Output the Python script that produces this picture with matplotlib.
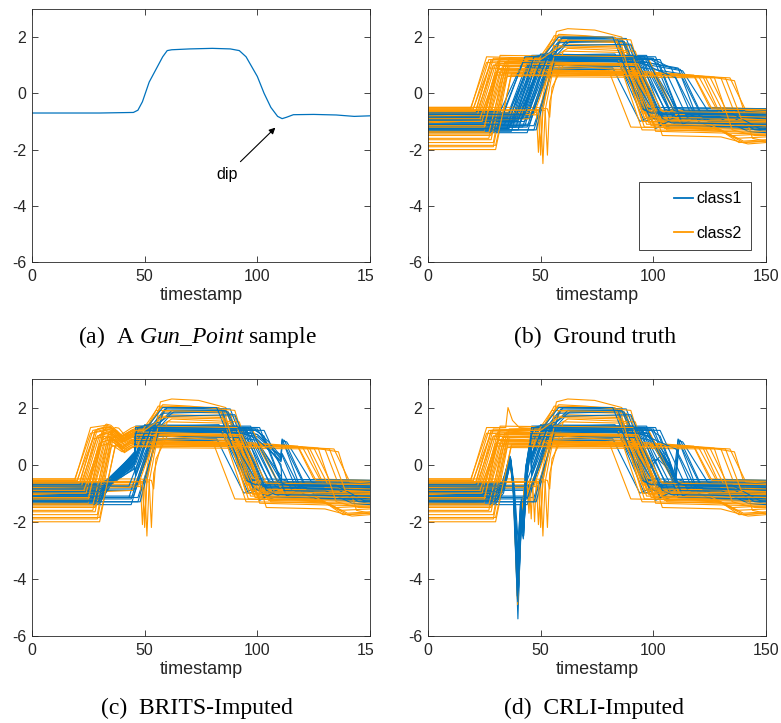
import matplotlib
matplotlib.use('Agg')
import matplotlib.pyplot as plt
from matplotlib.lines import Line2D
from matplotlib.patches import Rectangle
from matplotlib.legend_handler import HandlerLine2D

# ---------------- data ----------------
# (a) one Gun_Point sample, keypoints (timestamp, value)
SAMPLE_T = [0, 30, 45, 47, 49, 52, 55, 58, 60, 62, 70, 80, 88, 92, 95, 100, 103, 106, 109, 111, 113, 116, 125, 135, 143, 150]
SAMPLE_V = [-0.7, -0.7, -0.68, -0.6, -0.3, 0.4, 0.85, 1.3, 1.52, 1.55, 1.58, 1.6, 1.58, 1.52, 1.3, 0.6, 0.0, -0.5, -0.82, -0.9, -0.85, -0.76, -0.75, -0.77, -0.82, -0.8]

# ground truth, class1 (blue) keypoints [timestamp, value]
CLASS1_GT = [
    [[0,-0.75],[33,-0.75],[43,1.25],[85,1.3],[97,-0.7],[101,-0.62],[150,-0.65]],
    [[0,-0.85],[35,-0.85],[45,1.3],[88,1.35],[100,-0.85],[104,-0.75],[150,-0.8]],
    [[0,-0.95],[36,-0.95],[46,1.35],[83,1.4],[96,-1.0],[100,-0.9],[150,-0.95]],
    [[0,-1.05],[38,-1.05],[48,1.2],[90,1.2],[102,-0.8],[106,-0.7],[150,-0.75]],
    [[0,-1.2],[39,-1.2],[49,1.3],[92,1.3],[104,-1.1],[108,-0.95],[150,-1.0]],
    [[0,-1.3],[20,-1.32],[40,-1.3],[50,1.4],[87,1.35],[99,-0.9],[103,-0.8],[150,-0.85]],
    [[0,-0.8],[41,-0.8],[51,1.25],[95,1.25],[107,-0.6],[111,-0.52],[150,-0.55]],
    [[0,-1.0],[43,-1.0],[53,1.3],[94,1.3],[106,-1.2],[110,-1.05],[150,-1.15]],
    [[0,-1.4],[44,-1.4],[54,1.15],[89,1.15],[101,-1.25],[105,-1.1],[150,-1.3]],
    [[0,-0.9],[45,-0.9],[55,1.35],[97,1.35],[109,-0.9],[113,-0.8],[150,-0.85]],
    [[0,-1.15],[47,-1.15],[57,1.25],[100,1.25],[112,-1.0],[116,-0.9],[150,-1.0]],
    [[0,-0.7],[37,-0.7],[47,1.0],[86,1.0],[98,-0.7],[102,-0.6],[150,-0.6]],
    [[0,-1.1],[34,-1.1],[44,0.9],[82,0.9],[94,-1.0],[98,-0.85],[150,-0.9]],
    [[0,-0.95],[38,-0.95],[48,1.25],[53,1.35],[59,1.95],[84,1.95],[98,-0.8],[102,-0.95],[150,-1.0]],
    [[0,-1.2],[42,-1.2],[52,1.3],[56,1.4],[62,1.9],[86,1.9],[100,-0.6],[104,-0.75],[150,-0.8]],
    [[0,-0.85],[46,-0.85],[55,1.5],[60,2.0],[88,1.95],[102,-1.0],[106,-1.15],[150,-1.2]],
    [[0,-1.3],[48,-1.3],[58,1.8],[84,1.85],[97,-0.5],[101,-0.62],[150,-0.65]],
    [[0,-1.05],[41,-1.05],[51,1.3],[85,1.3],[112,0.85],[122,-0.85],[126,-1.0],[150,-1.05]],
    [[0,-0.8],[44,-0.8],[54,1.2],[88,1.15],[113,0.8],[124,-0.6],[128,-0.7],[150,-0.75]],
    [[0,-1.25],[36,-1.25],[46,1.3],[90,1.2],[111,0.9],[120,-1.0],[124,-1.15],[150,-1.25]],
    [[0,-0.95],[40,-0.95],[50,1.0],[92,0.95],[112,0.7],[122,-0.9],[126,-1.05],[150,-1.2]],
    [[0,-1.0],[39,-1.0],[49,1.3],[93,1.25],[105,-0.55],[109,-0.7],[132,-0.7],[145,-1.3],[150,-1.35]],
    [[0,-1.15],[43,-1.15],[53,1.35],[96,1.3],[108,-0.75],[112,-0.9],[130,-0.9],[142,-1.35],[150,-1.4]],
    [[0,-0.75],[46,-0.75],[56,1.2],[98,1.1],[110,-0.5],[114,-0.6],[150,-0.62]],
    [[0,-0.65],[32,-0.65],[42,1.1],[84,1.15],[96,-0.6],[100,-0.5],[150,-0.55]],
    [[0,-1.35],[37,-1.35],[47,1.25],[91,1.3],[103,-1.15],[107,-1.0],[150,-1.1]],
    [[0,-0.9],[42,-0.9],[52,1.4],[57,1.5],[63,1.85],[87,1.85],[101,-0.7],[105,-0.85],[150,-0.9]],
    [[0,-1.1],[45,-1.1],[55,1.3],[99,1.25],[108,0.9],[117,-0.8],[121,-0.95],[150,-1.0]],
    [[0,-0.8],[39,-0.8],[49,0.85],[89,0.85],[101,-0.75],[105,-0.65],[150,-0.7]],
    [[0,-1.25],[35,-1.25],[45,1.2],[95,1.2],[107,-0.95],[111,-0.8],[150,-0.9]],
    [[0,-0.7],[36,-0.7],[46,1.2],[99,1.2],[103,1.0],[111,-0.65],[115,-0.75],[150,-0.72]],
    [[0,-1.0],[41,-1.0],[51,1.35],[101,1.3],[113,-1.1],[117,-0.95],[150,-1.05]],
    [[0,-1.2],[44,-1.2],[54,1.25],[103,1.2],[115,-0.85],[119,-0.75],[150,-0.8]],
    [[0,-0.85],[33,-0.85],[43,1.3],[91,1.35],[103,-0.75],[107,-0.65],[150,-0.7]],
    [[0,-1.3],[47,-1.3],[57,1.35],[61,1.7],[90,1.75],[104,-0.9],[108,-1.05],[150,-1.1]],
    [[0,-0.95],[40,-0.95],[50,1.15],[94,1.1],[110,0.55],[118,-0.7],[122,-0.85],[150,-0.9]],
    [[0,-1.1],[37,-1.1],[47,1.3],[52,1.4],[58,2.0],[82,2.0],[95,-0.55],[99,-0.7],[150,-0.75]],
    [[0,-0.75],[43,-0.75],[53,1.3],[97,1.25],[109,-0.6],[113,-0.7],[135,-0.72],[147,-1.25],[150,-1.3]],
]

# ground truth, class2 (orange) keypoints [timestamp, value]
CLASS2_GT = [
    [[0,-0.55],[19,-0.55],[26,1.3],[48,1.25],[88,1.2],[99,-0.8],[150,-0.85]],
    [[0,-0.7],[21,-0.7],[28,1.15],[50,1.1],[90,1.05],[101,-1.0],[150,-1.1]],
    [[0,-0.9],[22,-0.9],[29,1.0],[92,0.95],[103,-0.9],[150,-0.95]],
    [[0,-1.1],[24,-1.1],[31,0.85],[80,0.85],[90,-1.2],[150,-1.3]],
    [[0,-1.3],[25,-1.3],[32,0.8],[89,0.8],[100,-1.1],[150,-1.2]],
    [[0,-1.6],[27,-1.6],[34,1.1],[94,1.0],[105,-1.25],[130,-1.3],[140,-1.7],[150,-1.65]],
    [[0,-1.9],[29,-1.9],[36,0.95],[87,0.9],[98,-1.0],[125,-1.05],[138,-1.75],[150,-1.7]],
    [[0,-2.0],[30,-2.0],[37,0.7],[95,0.65],[106,-1.3],[150,-1.4]],
    [[0,-0.6],[20,-0.6],[27,1.2],[50,1.2],[57,2.0],[85,1.95],[96,-0.9],[150,-1.0]],
    [[0,-0.8],[23,-0.8],[30,1.05],[52,1.1],[59,1.85],[88,1.8],[99,-1.15],[150,-1.2]],
    [[0,-1.2],[26,-1.2],[33,0.95],[49,1.0],[56,2.05],[83,2.0],[95,-0.7],[150,-0.75]],
    [[0,-1.45],[28,-1.45],[35,1.15],[53,1.2],[60,1.75],[90,1.7],[101,-1.35],[150,-1.45]],
    [[0,-0.6],[45,-0.6],[48,-0.55],[49,-2.1],[50,-0.5],[57,2.2],[62,2.3],[74,2.25],[86,2.0],[97,-0.9],[150,-0.95]],
    [[0,-0.75],[46,-0.7],[50,-0.65],[51,-2.5],[52,-0.6],[58,1.9],[87,1.85],[98,-1.05],[150,-1.1]],
    [[0,-0.65],[47,-0.62],[52,-0.6],[53,-2.2],[54,-0.3],[60,1.5],[89,1.45],[100,-0.85],[150,-0.9]],
    [[0,-0.85],[44,-0.8],[49,-0.75],[50,-2.2],[51,-0.55],[56,1.7],[85,1.65],[96,-1.2],[150,-1.25]],
    [[0,-0.5],[48,-0.5],[53,-0.55],[54,-0.85],[55,0.2],[60,1.0],[90,0.95],[101,-0.6],[150,-0.62]],
    [[0,-0.6],[22,-0.6],[29,1.0],[60,0.9],[100,0.7],[120,0.62],[128,-0.55],[150,-0.6]],
    [[0,-0.95],[24,-0.95],[31,0.85],[70,0.75],[110,0.65],[125,0.6],[133,-0.7],[150,-0.72]],
    [[0,-1.25],[26,-1.25],[33,0.7],[80,0.7],[115,0.62],[130,0.55],[138,-1.1],[150,-1.2]],
    [[0,-1.5],[28,-1.5],[35,0.6],[128,0.55],[136,0.45],[144,-1.6],[150,-1.7]],
    [[0,-0.7],[46,-0.68],[54,0.8],[95,0.7],[118,0.62],[125,-0.5],[150,-0.55]],
    [[0,-1.05],[45,-0.9],[53,0.75],[100,0.65],[122,0.6],[130,-0.8],[150,-0.85]],
    [[0,-0.55],[20,-0.55],[27,0.9],[110,0.65],[134,0.55],[141,-0.6],[150,-0.65]],
    [[0,-1.75],[29,-1.75],[36,1.25],[56,1.3],[62,1.6],[92,1.5],[104,-1.5],[130,-1.55],[142,-1.8],[150,-1.75]],
    [[0,-1.35],[25,-1.35],[32,1.35],[84,1.3],[95,-1.3],[150,-1.35]],
    [[0,-0.6],[50,-0.58],[57,1.3],[98,1.2],[110,-0.75],[150,-0.8]],
    [[0,-1.0],[23,-1.0],[30,0.75],[100,0.7],[112,-1.05],[125,-1.1],[137,-1.6],[150,-1.55]],
    [[0,-0.65],[21,-0.65],[28,1.2],[51,1.25],[58,2.1],[70,2.05],[90,1.9],[101,-0.95],[150,-1.0]],
    [[0,-1.15],[25,-1.15],[32,1.05],[86,1.0],[97,-0.85],[150,-0.9]],
    [[0,-0.8],[47,-0.75],[55,1.05],[92,1.0],[104,-1.15],[125,-1.2],[135,-1.5],[150,-1.45]],
    [[0,-1.65],[28,-1.65],[35,0.9],[105,0.7],[123,0.6],[131,-0.65],[150,-0.7]],
    [[0,-0.5],[19,-0.5],[26,1.1],[60,1.0],[100,0.75],[118,0.65],[126,-0.55],[150,-0.58]],
    [[0,-0.75],[22,-0.75],[29,1.25],[49,1.2],[55,1.9],[84,1.85],[95,-1.0],[150,-1.05]],
    [[0,-1.4],[27,-1.4],[34,0.8],[90,0.75],[101,-1.2],[128,-1.25],[140,-1.75],[150,-1.7]],
    [[0,-1.0],[24,-1.0],[31,1.15],[93,1.05],[104,-0.65],[150,-0.7]],
    [[0,-0.6],[46,-0.6],[49,-0.6],[50,-1.9],[51,-0.58],[56,1.35],[91,1.3],[102,-0.95],[150,-1.0]],
    [[0,-1.85],[30,-1.85],[37,0.65],[110,0.62],[127,0.58],[135,-1.3],[145,-1.5],[150,-1.5]],
    [[0,-0.9],[23,-0.9],[30,0.65],[115,0.62],[132,0.55],[139,-0.9],[150,-0.95]],
    [[0,-1.2],[25,-1.2],[32,1.2],[50,1.2],[58,1.65],[86,1.6],[97,-1.1],[150,-1.15]],
]

# (c) BRITS-imputed segments: {curve number: [segment keypoints, ...]}
BRITS_CLASS1 = {
    1: [[[30,-0.75],[33.5,-0.62],[45.5,0.45],[46,1.25]]],
    2: [[[30,-0.85],[33.5,-0.6],[45.5,0.35],[46,1.3]]],
    3: [[[30,-0.95],[34,-0.6],[45.5,0.3],[46,1.35]]],
    4: [[[30,-1.05],[34.5,-0.62],[45.5,0.2],[46,0.75]]],
    5: [[[30,-1.2],[35,-0.65],[45.5,0.1],[46,0.55]]],
    6: [[[30,-1.3],[35,-0.7],[45.5,0.0],[46,0.32]]],
    7: [[[30,-0.8],[35.5,-0.6],[45.5,0.15],[46,0.22]]],
    8: [[[30,-1.0],[36,-0.65],[45.5,-0.1],[46,-0.31]]],
    10: [[[100,0.79],[106,0.1],[110.5,-0.4],[111,-0.85]]],
    11: [[[100,1.25],[105,0.6],[110.5,0.0],[111,-0.81]]],
    12: [[[30,-0.7],[33,-0.6],[45.5,0.4],[46,0.83]]],
    13: [[[30,-1.1],[33.5,-0.65],[45.5,0.25],[46,0.9]]],
    14: [[[30,-0.95],[34,-0.6],[45.5,0.3],[46,0.81]]],
    15: [[[30,-1.2],[35,-0.65],[45.5,-0.05],[46,-0.2]]],
    18: [[[30,-1.05],[34.5,-0.6],[45.5,0.05],[46,0.13]], [[100,1.05],[106,0.6],[110.5,0.25],[111,0.87]]],
    19: [[[30,-0.8],[36,-0.6],[45.5,-0.15],[46,-0.4]], [[100,0.98],[107,0.5],[110.5,0.35],[111,0.83]]],
    20: [[[30,-1.25],[34,-0.7],[45.5,0.35],[46,1.3]], [[100,1.06],[105,0.7],[110.5,0.2],[111,0.9]]],
    21: [[[30,-0.95],[35,-0.62],[45.5,0.1],[46,0.22]], [[100,0.85],[106,0.45],[110.5,0.15],[111,0.71]]],
    22: [[[30,-1.0],[34,-0.6],[45.5,0.2],[46,0.61]]],
    25: [[[30,-0.65],[33,-0.55],[45.5,0.4],[46,1.1]]],
    26: [[[30,-1.35],[35,-0.7],[45.5,0.25],[46,0.99]]],
    27: [[[30,-0.9],[35.5,-0.62],[45.5,0.0],[46,0.02]]],
    28: [[[99,1.25],[105,0.8],[110.5,0.3],[111,0.33]]],
    29: [[[30,-0.8],[34,-0.6],[45.5,0.15],[46,0.36]]],
    30: [[[30,-1.25],[33.5,-0.65],[45.5,0.3],[46,1.2]]],
    31: [[[30,-0.7],[33,-0.6],[45.5,0.35],[46,1.2]]],
    32: [[[30,-1.0],[35,-0.65],[45.5,0.05],[46,0.18]]],
    34: [[[30,-0.85],[33,-0.72],[45.5,0.4],[46,1.3]]],
    36: [[[30,-0.95],[35,-0.62],[45.5,0.1],[46,0.31]], [[100,0.89],[106,0.45],[110.5,0.1],[111,0.39]]],
    37: [[[30,-1.1],[34,-0.68],[45.5,0.3],[46,1.06]]],
}
BRITS_CLASS2 = {
    1: [[[33,1.38],[35,1.33],[39.5,1.0],[44,1.2],[46,1.27]], [[99,-0.8],[100.5,-1.1],[101.5,-0.82]]],
    2: [[[33,1.25],[35,1.2],[39.5,0.9],[44,1.08],[46,1.12]]],
    3: [[[33,1.1],[35,1.05],[39.5,0.78],[44,0.98],[46,1.0]]],
    4: [[[33,0.95],[35,0.95],[40,0.65],[44,0.85],[46,0.85]]],
    5: [[[33,0.85],[35.5,0.9],[40,0.6],[44,0.8],[46,0.8]]],
    6: [[[35,1.15],[37,1.2],[40.5,0.9],[44,1.05],[46,1.08]]],
    7: [[[37,1.0],[38,1.02],[41,0.8],[44.5,0.95],[46,0.93]]],
    8: [[[38,0.72],[41,0.55],[44.5,0.7],[46,0.7]]],
    9: [[[33,1.3],[35,1.28],[39.5,0.95],[44,1.15],[46,1.2]], [[99,-0.9],[100.5,-1.12],[101.5,-0.9]]],
    10: [[[33,1.15],[35,1.12],[39.5,0.85],[44,1.05],[46,1.08]]],
    11: [[[34,1.05],[36,1.05],[40,0.8],[44,0.95],[46,0.97]]],
    12: [[[36,1.22],[37.5,1.2],[41,0.92],[44.5,1.12],[46,1.16]]],
    18: [[[33,1.08],[35,1.05],[39.5,0.75],[44,0.95],[46,0.95]]],
    19: [[[33,0.95],[35,0.92],[40,0.62],[44,0.8],[46,0.81]]],
    20: [[[34,0.78],[36,0.8],[40.5,0.5],[44,0.68],[46,0.7]]],
    21: [[[36,0.66],[38,0.65],[41,0.42],[44.5,0.6],[46,0.6]]],
    24: [[[33,1.0],[35,0.98],[39.5,0.7],[44,0.88],[46,0.89]]],
    25: [[[37,1.3],[38.5,1.28],[41.5,1.0],[44.5,1.22],[46,1.26]]],
    26: [[[33,1.42],[35,1.38],[39.5,1.05],[44,1.28],[46,1.34]]],
    28: [[[33,0.85],[35,0.85],[40,0.55],[44,0.74],[46,0.75]]],
    29: [[[33,1.32],[35,1.3],[39.5,0.98],[44,1.18],[46,1.22]]],
    30: [[[33,1.15],[35,1.12],[39.5,0.82],[44,1.0],[46,1.05]], [[99,-0.85],[100.5,-1.05],[101.5,-0.86]]],
    32: [[[36,0.95],[38,0.95],[41,0.68],[44.5,0.88],[46,0.89]]],
    33: [[[33,1.2],[35,1.15],[39.5,0.85],[44,1.02],[46,1.04]]],
    34: [[[33,1.33],[35,1.3],[39.5,0.98],[44,1.18],[46,1.2]]],
    35: [[[35,0.85],[37,0.88],[40.5,0.58],[44,0.76],[46,0.8]]],
    36: [[[33,1.25],[35,1.22],[39.5,0.9],[44,1.1],[46,1.15]]],
    38: [[[38,0.68],[41,0.45],[44.5,0.62],[46,0.65]]],
    39: [[[33,0.72],[35,0.72],[40,0.45],[44,0.62],[46,0.65]]],
    40: [[[33,1.3],[35,1.27],[39.5,0.95],[44,1.15],[46,1.2]]],
}

# (d) CRLI-imputed segments
CRLI_CLASS1 = {
    1: [[[30,-0.75],[33,-0.7],[36.3,0.28],[38,-0.9],[39.7,-4.2],[41.2,-1.7],[42.2,-2.1],[43.6,-0.2],[45.5,0.85],[46,1.25]]],
    2: [[[30,-0.85],[33,-0.75],[36.5,0.22],[38,-0.7],[39.9,-4.5],[41.3,-1.9],[42.3,-2.3],[43.5,-0.3],[45.5,0.9],[46,1.3]]],
    3: [[[30,-0.95],[33.5,-0.8],[36.6,0.18],[38.2,-1.0],[40.0,-3.8],[41.2,-1.5],[42.1,-1.9],[43.4,-0.1],[45.5,0.95],[46,1.35]]],
    4: [[[30,-1.05],[33,-0.85],[36.4,0.25],[38.1,-0.9],[39.9,-4.8],[41.4,-2.0],[42.4,-2.4],[43.7,-0.4],[45.5,0.7],[46,0.75]]],
    5: [[[30,-1.2],[33.5,-0.9],[36.7,0.1],[38.3,-1.1],[40.1,-4.0],[41.3,-1.6],[42.2,-2.0],[43.5,-0.35],[45.5,0.6],[46,0.55]],
        [[98,0.1],[102,0.2],[106,-0.1],[109,-0.6],[111,-0.95]]],
    6: [[[30,-1.3],[33,-0.95],[36.5,0.2],[38,-1.0],[39.9,-5.4],[41.2,-2.2],[42.3,-2.6],[43.8,-0.5],[45.5,0.5],[46,0.32]]],
    7: [[[30,-0.8],[33,-0.72],[36.2,0.3],[37.9,-0.6],[39.6,-3.5],[41.0,-1.4],[42.0,-1.8],[43.3,-0.1],[45.5,0.7],[46,0.22]]],
    8: [[[30,-1.0],[34,-0.85],[36.8,0.15],[38.4,-1.2],[40.2,-4.3],[41.5,-1.8],[42.5,-2.2],[43.9,-0.45],[45.5,0.45],[46,-0.31]]],
    10: [[[98,1.16],[102,0.45],[106,0.0],[109,-0.3],[111,-0.85]]],
    11: [[[100,1.25],[104,0.5],[108,-0.2],[111,-0.81]]],
    12: [[[30,-0.7],[33,-0.65],[36.4,0.27],[38,-0.8],[39.8,-4.6],[41.3,-1.9],[42.2,-2.3],[43.6,-0.25],[45.5,0.8],[46,0.83]]],
    13: [[[30,-1.1],[33,-0.85],[36.3,0.2],[38,-0.95],[39.7,-3.2],[41.1,-1.3],[42.0,-1.7],[43.4,-0.15],[45.5,0.9],[46,0.9]]],
    14: [[[30,-0.95],[33.5,-0.78],[36.6,0.24],[38.2,-0.85],[40.0,-4.1],[41.3,-1.7],[42.3,-2.1],[43.6,-0.3],[45.5,0.85],[46,0.81]]],
    15: [[[30,-1.2],[33.5,-0.9],[36.5,0.12],[38.1,-1.05],[39.9,-4.7],[41.4,-2.0],[42.4,-2.5],[43.8,-0.5],[45.5,0.55],[46,-0.2]]],
    16: [[[98,-0.16],[103,0.3],[107,0.05],[109.5,-0.7],[111,-1.15]]],
    18: [[[30,-1.05],[33,-0.85],[36.5,0.2],[38,-0.9],[39.8,-3.9],[41.2,-1.6],[42.2,-2.0],[43.5,-0.3],[45.5,0.65],[46,0.13]],
         [[98,1.08],[103,0.5],[107,0.0],[109.5,-0.75],[111,0.87]]],
    19: [[[30,-0.8],[33.5,-0.7],[36.7,0.22],[38.3,-0.75],[40.1,-2.8],[41.4,-1.2],[42.4,-1.6],[43.7,-0.2],[45.5,0.6],[46,-0.4]],
         [[98,1.01],[104,0.35],[108,-0.1],[110,-0.6],[111.5,0.82]]],
    20: [[[30,-1.25],[33,-0.92],[36.4,0.18],[38,-1.0],[39.8,-4.4],[41.2,-1.8],[42.2,-2.2],[43.5,-0.3],[45.5,0.9],[46,1.3]],
         [[98,1.09],[102,0.6],[106,0.1],[109,-0.4],[111,0.9]]],
    21: [[[30,-0.95],[33,-0.78],[36.5,0.25],[38.1,-0.85],[39.9,-3.6],[41.3,-1.5],[42.3,-1.9],[43.6,-0.2],[45.5,0.7],[46,0.22]],
         [[98,0.875],[103,0.3],[107,-0.2],[109.5,-0.85],[111,0.71]]],
    22: [[[30,-1.0],[33.5,-0.82],[36.6,0.2],[38.2,-0.95],[40.0,-4.9],[41.4,-2.1],[42.4,-2.5],[43.8,-0.4],[45.5,0.75],[46,0.61]]],
    23: [[[98,0.96],[103,0.25],[107,-0.2],[109,-0.5],[111,-0.86]]],
    25: [[[30,-0.65],[33,-0.62],[36.3,0.3],[37.9,-0.7],[39.7,-4.0],[41.1,-1.6],[42.1,-2.0],[43.4,-0.1],[45.5,0.95],[46,1.1]]],
    26: [[[30,-1.35],[33.5,-1.0],[36.6,0.1],[38.2,-1.15],[40.0,-3.3],[41.3,-1.4],[42.3,-1.8],[43.6,-0.3],[45.5,0.8],[46,0.99]]],
    27: [[[30,-0.9],[33,-0.8],[36.5,0.2],[38.1,-0.9],[39.9,-4.2],[41.3,-1.8],[42.3,-2.2],[43.6,-0.35],[45.5,0.5],[46,0.02]]],
    28: [[[99,1.25],[103,0.6],[107,0.2],[109.5,-0.5],[111,0.33]]],
    29: [[[30,-0.8],[33,-0.72],[36.4,0.26],[38,-0.8],[39.8,-4.5],[41.2,-1.9],[42.2,-2.3],[43.5,-0.25],[45.5,0.7],[46,0.36]]],
    30: [[[30,-1.25],[33,-0.9],[36.5,0.16],[38.1,-1.0],[39.9,-3.7],[41.2,-1.5],[42.2,-1.9],[43.5,-0.2],[45.5,0.85],[46,1.2]]],
    31: [[[30,-0.7],[33,-0.66],[36.4,0.26],[37.7,-0.6],[39.9,-4.4],[41.4,-1.9],[42.4,-2.3],[43.7,-0.3],[45.5,0.8],[46,1.2]]],
    32: [[[30,-1.0],[33.5,-0.85],[36.6,0.15],[37.9,-0.8],[40.1,-3.4],[41.5,-1.6],[42.5,-2.0],[43.8,-0.35],[45.5,0.5],[46,0.18]]],
    34: [[[30,-0.85],[33,-0.75],[36.3,0.27],[37.6,-0.6],[39.6,-4.6],[41.2,-2.0],[42.2,-2.3],[43.5,-0.2],[45.5,0.9],[46,1.3]]],
    36: [[[30,-0.95],[33,-0.8],[36.5,0.2],[37.8,-0.7],[40.0,-4.0],[41.4,-1.7],[42.4,-2.1],[43.6,-0.25],[45.5,0.7],[46,0.31]]],
    37: [[[30,-1.1],[33,-0.9],[36.5,0.2],[37.8,-0.75],[39.8,-4.8],[41.3,-2.0],[42.3,-2.4],[43.6,-0.3],[45.5,0.75],[46,1.06]]],
}
CRLI_CLASS2 = {
    1: [[[34.5,1.3],[35.5,2.0],[37.5,1.55],[40.5,1.3],[46,1.27]], [[99,-0.8],[101,-1.0],[102.5,-0.82]]],
    9: [[[99,-0.9],[100.5,-1.05],[102,-0.9]]],
    14: [[[46.5,-0.69],[47.3,-2.0],[48,-0.67]]],
    17: [[[44,-0.5],[44.6,-1.3],[45.2,-0.5]]],
    22: [[[30,-0.69],[33,-0.69],[36.5,0.2],[38,-1.0],[39.8,-4.9],[41.2,-2.0],[43,-0.6],[45.5,-0.6],[46,-0.68]]],
    23: [[[30,-0.95],[33,-0.93],[36.4,0.15],[38,-1.1],[39.7,-4.7],[41.1,-1.9],[43,-0.7],[45,-0.9]]],
    27: [[[45,-0.58],[45.8,-1.9],[46.5,-0.58]]],
    31: [[[44,-0.76],[44.8,-1.7],[45.5,-0.75]]],
}

LABELS = ['class1', 'class2']
CAPTIONS = [r'(a)  A $\mathit{Gun\_Point}$ sample', '(b)  Ground truth',
            '(c)  BRITS-Imputed', '(d)  CRLI-Imputed']
XTICKS = [0, 50, 100, 150]
YTICKS = [-6, -4, -2, 0, 2]

# ---------------- style ----------------
BLUE = '#0072BD'
ORANGE = '#FF9900'
DARK = '#262626'
plt.rcParams['font.family'] = ['Liberation Sans', 'DejaVu Sans']
plt.rcParams['axes.unicode_minus'] = False
plt.rcParams['mathtext.fontset'] = 'custom'
plt.rcParams['mathtext.rm'] = 'Liberation Serif'
plt.rcParams['mathtext.it'] = 'Liberation Serif:italic'

W, H = 781, 723
fig = plt.figure(figsize=(W / 100, H / 100), dpi=100)


def add_ax(l, t, r, b):
    return fig.add_axes([l / W, 1 - b / H, (r - l) / W, (b - t) / H])


def style(ax):
    ax.set_xlim(0, 150)
    ax.set_ylim(-6, 3)
    ax.set_xticks(XTICKS)
    ax.set_yticks(YTICKS)
    ax.set_xticklabels([str(v) for v in XTICKS])
    ax.set_yticklabels([str(v) for v in YTICKS])
    ax.tick_params(direction='in', top=True, right=True, length=4, width=0.6,
                   colors=DARK, labelsize=11.5)
    ax.tick_params(axis='x', pad=5)
    ax.tick_params(axis='y', pad=4)
    for s in ax.spines.values():
        s.set_color(DARK)
        s.set_linewidth(0.6)
    ax.set_xlabel('timestamp', fontsize=13, color=DARK, labelpad=2)


def patched(curve, patches):
    pts = [tuple(p) for p in curve]
    for patch in patches:
        t0, t1 = patch[0][0], patch[-1][0]
        pts = ([p for p in pts if p[0] < t0] + [tuple(p) for p in patch]
               + [p for p in pts if p[0] > t1])
    return pts


def draw_panel(ax, p1, p2):
    n = max(len(CLASS1_GT), len(CLASS2_GT))
    for i in range(n):
        for curves, pmap, col in ((CLASS1_GT, p1, BLUE), (CLASS2_GT, p2, ORANGE)):
            if i < len(curves):
                pts = patched(curves[i], pmap.get(i + 1, []))
                ax.plot([p[0] for p in pts], [p[1] for p in pts], color=col,
                        lw=0.8, solid_joinstyle='round')


class RightLineHandler(HandlerLine2D):
    """Legend line drawn only in the right part of the handle box."""
    def create_artists(self, legend, orig_handle, xdescent, ydescent, width,
                       height, fontsize, trans):
        shift = width * 0.57
        return super().create_artists(legend, orig_handle, xdescent - shift,
                                      ydescent, width - shift, height,
                                      fontsize, trans)


axA = add_ax(32, 9, 370, 262)
axB = add_ax(428, 9, 766, 262)
axC = add_ax(32, 379, 370, 636)
axD = add_ax(428, 379, 766, 636)

axA.plot(SAMPLE_T, SAMPLE_V, color=BLUE, lw=0.9)
axA.annotate('dip', xy=(108, -1.22), xytext=(86.5, -2.9), fontsize=11.5,
             ha='center', va='center', color='black',
             arrowprops=dict(arrowstyle='-|>', color='black', lw=0.8,
                             mutation_scale=9, shrinkA=3, shrinkB=0))

draw_panel(axB, {}, {})
draw_panel(axC, BRITS_CLASS1, BRITS_CLASS2)
draw_panel(axD, CRLI_CLASS1, CRLI_CLASS2)

for ax in (axA, axB, axC, axD):
    style(ax)

handles = [Line2D([], [], color=BLUE, lw=1.3), Line2D([], [], color=ORANGE, lw=1.3)]
leg = axB.legend(handles, LABELS, loc='lower right', bbox_to_anchor=(0.956, 0.047),
                 borderaxespad=0, fancybox=False, framealpha=1, edgecolor=DARK,
                 fontsize=11.5, handlelength=2.8, handletextpad=0.2,
                 labelspacing=1.2, borderpad=0.6,
                 handler_map={Line2D: RightLineHandler()})
leg.get_frame().set_linewidth(0.6)

cap_pos = [(197, 337), (595, 337), (197, 708), (594, 708)]
for (cx, cy), cap in zip(cap_pos, CAPTIONS):
    fig.text(cx / W, 1 - cy / H, cap, ha='center', va='center', fontsize=17,
             family='Liberation Serif', color='black')

# the reference image is cropped just right of the left column's axes
for top in (265, 640):
    fig.add_artist(Rectangle((373 / W, 1 - (top + 25) / H), 17 / W, 25 / H,
                             transform=fig.transFigure, facecolor='white',
                             edgecolor='none', zorder=10))

fig.savefig('out.png', dpi=100)
